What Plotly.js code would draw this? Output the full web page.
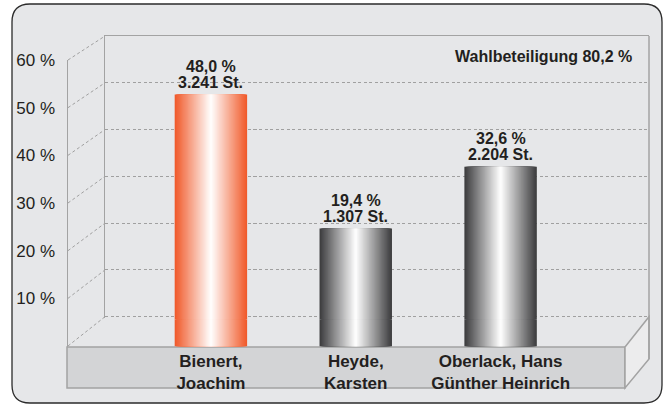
<!DOCTYPE html>
<html>
<head>
<meta charset="utf-8">
<script src="https://cdn.plot.ly/plotly-3.0.1.min.js"></script>
<style>html,body{margin:0;padding:0;background:#fff}#chart{width:665px;height:406px}</style>
</head>
<body>
<div id="chart"></div>
<script>
// ---- data ----
const candidates = ['Bienert,<br>Joachim', 'Heyde,<br>Karsten', 'Oberlack, Hans<br>Günther Heinrich'];
const percents = [48.0, 19.4, 32.6];
const votes = [3241, 1307, 2204];
const barKinds = ['orange', 'gray', 'gray'];
const turnout = 80.2;
const yTickVals = [10, 20, 30, 40, 50, 60];
const yTickText = ['10 %', '20 %', '30 %', '40 %', '50 %', '60 %'];

// ---- geometry helpers (pixels -> paper) ----
const W = 665, H = 406;
const fx = x => x / W;
const fy = y => 1 - y / H;

const BACK_L = 105, BACK_R = 649, BACK_T = 36, BACK_ZERO = 316.7;
const FRONT_L = 68, FRONT_T = 60, FRONT_B = 347, FRONT_ZERO = 346;
const FLOOR_R = 625, FLOOR_BOT = 388, SIDE_BOT = 359;

const kBack = (BACK_ZERO - BACK_T) / 60;          // px per % on back wall
const kFront = (FRONT_ZERO - FRONT_T) / 60;       // px per % on front edge
const kBar = 4.685, BAR_ZERO = 319.5;             // bar scale
const CAT_PX = 144.85, CAT0 = 210.9;              // category spacing
const BAR_W = 0.5;
const PLINTH = -5.7;                              // bars reach down to floor edge

const fontFam = 'Liberation Sans, Arial, Helvetica, sans-serif';
const TXT = '#231f20';
const LINE = '#a3a3a3';

// ---- gradient bars (overlay of narrowing bars) ----
const EDGE = {orange: [240, 88, 40], gray: [58, 58, 60]};
function shade(kind, t) {
  const e = EDGE[kind];
  const c = e.map(v => Math.round(255 + (v - 255) * t));
  return 'rgb(' + c.join(',') + ')';
}
const N = 30;
const traces = [
  // empty helper traces so the back-wall and front-label axes get drawn
  {type: 'scatter', mode: 'markers', x: [], y: [], xaxis: 'x', yaxis: 'y', hoverinfo: 'skip', showlegend: false},
  {type: 'scatter', mode: 'markers', x: [], y: [], xaxis: 'x2', yaxis: 'y3', hoverinfo: 'skip', showlegend: false}
];
for (let i = 0; i < N; i++) {
  const w = BAR_W * (1 - i / N);
  const t = 1 - (i + 0.5) / N;
  const colors = barKinds.map(k => shade(k, t));
  traces.push({
    type: 'bar', x: candidates, y: percents, width: w,
    xaxis: 'x2', yaxis: 'y2',
    marker: {color: colors, line: {width: 0}},
    hoverinfo: 'skip', showlegend: false
  });
  traces.push({
    type: 'bar', x: candidates, y: candidates.map(() => PLINTH), width: w,
    xaxis: 'x2', yaxis: 'y2',
    marker: {color: colors, line: {width: 0}},
    hoverinfo: 'skip', showlegend: false
  });
}

// ---- text formatting ----
const fmtPct = v => v.toFixed(1).replace('.', ',') + ' %';
const fmtVotes = n => String(n).replace(/\B(?=(\d{3})+(?!\d))/g, '.') + ' St.';

const annotations = [{
  xref: 'paper', yref: 'paper', x: fx(634), y: fy(56.5),
  xanchor: 'right', yanchor: 'middle', showarrow: false,
  text: 'Wahlbeteiligung ' + fmtPct(turnout),
  font: {family: fontFam, size: 16, color: TXT, weight: 'bold'}
}];
percents.forEach((p, i) => {
  annotations.push({
    xref: 'x2', yref: 'y2', x: i, y: p, yanchor: 'middle', yshift: 28.3,
    showarrow: false, text: fmtPct(p),
    font: {family: fontFam, size: 16, color: TXT, weight: 'bold'}
  });
  annotations.push({
    xref: 'x2', yref: 'y2', x: i, y: p, yanchor: 'middle', yshift: 12.6,
    showarrow: false, text: fmtVotes(votes[i]),
    font: {family: fontFam, size: 16, color: TXT, weight: 'bold'}
  });
});

// ---- decorative 3D frame ----
function pathPx(cmds) {
  return cmds.map(c => {
    const L = c[0]; const pts = [];
    for (let j = 1; j < c.length; j += 2) pts.push(fx(c[j]) + ',' + fy(c[j + 1]));
    return L + ' ' + pts.join(' ');
  }).join(' ') + ' Z';
}
const R = 18, BX0 = 12, BY0 = 4, BX1 = 662, BY1 = 403;
const shapes = [
  {type: 'path', xref: 'paper', yref: 'paper', layer: 'below',
   path: pathPx([['M', BX0 + R, BY0], ['L', BX1 - R, BY0], ['Q', BX1, BY0, BX1, BY0 + R],
                 ['L', BX1, BY1 - R], ['Q', BX1, BY1, BX1 - R, BY1], ['L', BX0 + R, BY1],
                 ['Q', BX0, BY1, BX0, BY1 - R], ['L', BX0, BY0 + R], ['Q', BX0, BY0, BX0 + R, BY0]]),
   fillcolor: '#e6e7e9', line: {color: '#2b2b2b', width: 1.3}},
  {type: 'rect', xref: 'paper', yref: 'paper', layer: 'below',
   x0: fx(67), x1: fx(FLOOR_R), y0: fy(FRONT_B), y1: fy(FLOOR_BOT),
   fillcolor: '#d3d4d6', line: {color: LINE, width: 1.5}},
  {type: 'path', xref: 'paper', yref: 'paper', layer: 'below',
   path: pathPx([['M', FLOOR_R, FRONT_B], ['L', BACK_R, BACK_ZERO], ['L', BACK_R, SIDE_BOT], ['L', FLOOR_R, FLOOR_BOT]]),
   fillcolor: '#ececed', line: {color: LINE, width: 1.5}},
  {type: 'line', xref: 'paper', yref: 'paper', layer: 'below',
   x0: fx(BACK_R), x1: fx(BACK_R), y0: fy(BACK_T), y1: fy(SIDE_BOT),
   line: {color: LINE, width: 1.5}}
];
[0].concat(yTickVals).forEach(v => {
  shapes.push({type: 'line', xref: 'paper', yref: 'paper', layer: 'below',
    x0: fx(FRONT_L), y0: fy(FRONT_ZERO - kFront * v),
    x1: fx(BACK_L), y1: fy(BACK_ZERO - kBack * v),
    line: {color: '#a0a0a0', width: 1, dash: '3px,2.5px'}});
});

const backBottom = BACK_ZERO + 1.5;
const layout = {
  width: W, height: H,
  margin: {l: 0, r: 0, t: 0, b: 0, pad: 0},
  paper_bgcolor: '#ffffff', plot_bgcolor: 'rgba(0,0,0,0)',
  barmode: 'overlay', hovermode: false, showlegend: false,
  xaxis: {domain: [fx(BACK_L), fx(BACK_R)], range: [0, 1], anchor: 'y', side: 'top',
          showline: true, linecolor: LINE, linewidth: 1.5, showgrid: false, zeroline: false,
          showticklabels: false, ticks: '', fixedrange: true},
  yaxis: {domain: [fy(backBottom), fy(BACK_T)], range: [-(backBottom - BACK_ZERO) / kBack, 60],
          anchor: 'x', tickvals: [0].concat(yTickVals), showticklabels: false, ticks: '',
          showgrid: true, gridcolor: '#a0a0a0', gridwidth: 1, griddash: '3px,2.5px',
          zeroline: false, showline: true, linecolor: LINE, linewidth: 1.5, fixedrange: true},
  xaxis2: {domain: [fx(FRONT_L), fx(BACK_R)], anchor: 'y2', type: 'category',
           range: [-(CAT0 - FRONT_L) / CAT_PX, (BACK_R - CAT0) / CAT_PX],
           showline: false, showgrid: false, zeroline: false, ticks: '',
           ticklabelstandoff: 2,
           tickfont: {family: fontFam, size: 17, color: TXT, weight: 'bold'}, fixedrange: true},
  yaxis2: {domain: [fy(FRONT_B), fy(FRONT_T)], anchor: 'x2',
           range: [-(FRONT_B - BAR_ZERO) / kBar, (BAR_ZERO - FRONT_T) / kBar],
           visible: false, showgrid: false, zeroline: false, fixedrange: true},
  yaxis3: {overlaying: 'y2', anchor: 'x2', side: 'left',
           range: [-(FRONT_B - FRONT_ZERO) / kFront, 60],
           tickvals: yTickVals, ticktext: yTickText, ticks: '', ticklabelstandoff: 8,
           tickfont: {family: fontFam, size: 17, color: TXT},
           showgrid: false, zeroline: false, showline: true, linecolor: LINE, linewidth: 1.5,
           fixedrange: true},
  annotations: annotations,
  shapes: shapes
};

Plotly.newPlot('chart', traces, layout, {displayModeBar: false, staticPlot: true});
</script>
</body>
</html>
